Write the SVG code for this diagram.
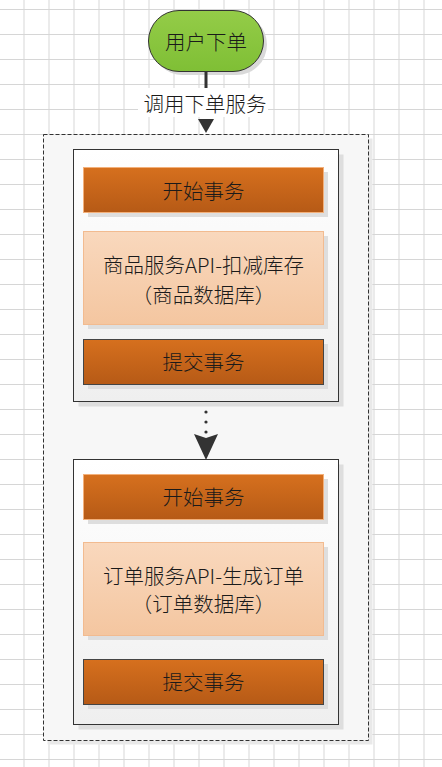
<svg xmlns="http://www.w3.org/2000/svg" width="442" height="767" viewBox="0 0 442 767">
<defs>
<pattern id="grid" x="23.5" y="9" width="25" height="25" patternUnits="userSpaceOnUse">
<path d="M0 0.5H25M0.5 0V25" fill="none" stroke="#d6d6d6" stroke-width="1"/>
</pattern>
<linearGradient id="gOrange" x1="0" y1="0" x2="0" y2="1">
<stop offset="0" stop-color="#d6701e"/>
<stop offset="1" stop-color="#b65a16"/>
</linearGradient>
<linearGradient id="gPeach" x1="0" y1="0" x2="0" y2="1">
<stop offset="0" stop-color="#f9d8bd"/>
<stop offset="1" stop-color="#f4c6a0"/>
</linearGradient>
<linearGradient id="gBox" x1="0" y1="0" x2="0" y2="1">
<stop offset="0" stop-color="#ffffff"/>
<stop offset="1" stop-color="#efefef"/>
</linearGradient>
<linearGradient id="gGreen" x1="0" y1="0" x2="0" y2="1">
<stop offset="0" stop-color="#94cc48"/>
<stop offset="1" stop-color="#7fbf35"/>
</linearGradient>
</defs>
<style>
text{font-family:"Noto Sans CJK SC","Liberation Sans",sans-serif;font-weight:300;fill:#1a1a1a;text-anchor:middle;dominant-baseline:central}
.shadow{fill:#dedede}
.bar{fill:url(#gOrange)}
.start{stroke:#f3b07a;stroke-width:1}
.commit{stroke:#444;stroke-width:1}
.peach{fill:url(#gPeach);stroke:#f2bb90;stroke-width:1}
.box{fill:url(#gBox);stroke:#333;stroke-width:1}
.lbl{font-size:20.5px}
</style>
<rect width="442" height="767" fill="#ffffff"/>
<rect width="442" height="767" fill="url(#grid)"/>

<g id="container">
<rect x="47.5" y="138.5" width="325" height="606" fill="#e9e9e9"/>
<rect x="43.5" y="134.5" width="325" height="606" fill="#f7f7f7" stroke="#333" stroke-width="1" stroke-dasharray="4,2"/>
</g>

<g id="start-node">
<rect x="152" y="14" width="115" height="61" rx="30.5" fill="#d9d9d9"/>
<rect x="148.5" y="10.5" width="115" height="61" rx="30.5" fill="url(#gGreen)" stroke="#333" stroke-width="1"/>
<text x="206" y="41" class="lbl">用户下单</text>
</g>

<g id="connectors">
<line x1="206" y1="72" x2="206" y2="90" stroke="#333" stroke-width="3"/>
<rect x="138" y="88" width="130" height="29" fill="#ffffff"/>
<text x="205" y="103" class="lbl">调用下单服务</text>
<path d="M198 119L214 119L206 133Z" fill="#333"/>
<g fill="#333">
<circle cx="206" cy="402" r="1.6"/>
<circle cx="206" cy="412" r="1.6"/>
<circle cx="206" cy="422" r="1.6"/>
<circle cx="206" cy="432" r="1.6"/>
</g>
<path d="M194 434L206 438L218 434L206 460Z" fill="#333"/>
</g>

<g id="tx1">
<rect x="78.5" y="154.5" width="265" height="252" class="shadow"/>
<rect x="73.5" y="149.5" width="265" height="252" class="box"/>
<g id="tx1-begin">
<rect x="88" y="172" width="240" height="45" class="shadow"/>
<rect x="83.5" y="167.5" width="240" height="45" class="bar start"/>
<text x="203.5" y="190" class="lbl">开始事务</text>
</g>
<g id="tx1-api">
<rect x="88" y="236" width="240" height="93" class="shadow"/>
<rect x="83.5" y="231.5" width="240" height="93" class="peach"/>
<text x="203.5" y="264" class="lbl">商品服务API-扣减库存</text>
<text x="203.5" y="294" class="lbl">（商品数据库）</text>
</g>
<g id="tx1-commit">
<rect x="88" y="344" width="240" height="45" class="shadow"/>
<rect x="83.5" y="339.5" width="240" height="45" class="bar commit"/>
<text x="203.5" y="361" class="lbl">提交事务</text>
</g>
</g>

<g id="tx2">
<rect x="78.5" y="464.5" width="265" height="265" class="shadow"/>
<rect x="73.5" y="459.5" width="265" height="265" class="box"/>
<g id="tx2-begin">
<rect x="88" y="479" width="240" height="45" class="shadow"/>
<rect x="83.5" y="474.5" width="240" height="45" class="bar start"/>
<text x="203.5" y="496" class="lbl">开始事务</text>
</g>
<g id="tx2-api">
<rect x="88" y="547" width="240" height="93" class="shadow"/>
<rect x="83.5" y="542.5" width="240" height="93" class="peach"/>
<text x="203.5" y="575" class="lbl">订单服务API-生成订单</text>
<text x="203.5" y="603" class="lbl">（订单数据库）</text>
</g>
<g id="tx2-commit">
<rect x="88" y="664" width="240" height="45" class="shadow"/>
<rect x="83.5" y="659.5" width="240" height="45" class="bar commit"/>
<text x="203.5" y="681" class="lbl">提交事务</text>
</g>
</g>
</svg>
